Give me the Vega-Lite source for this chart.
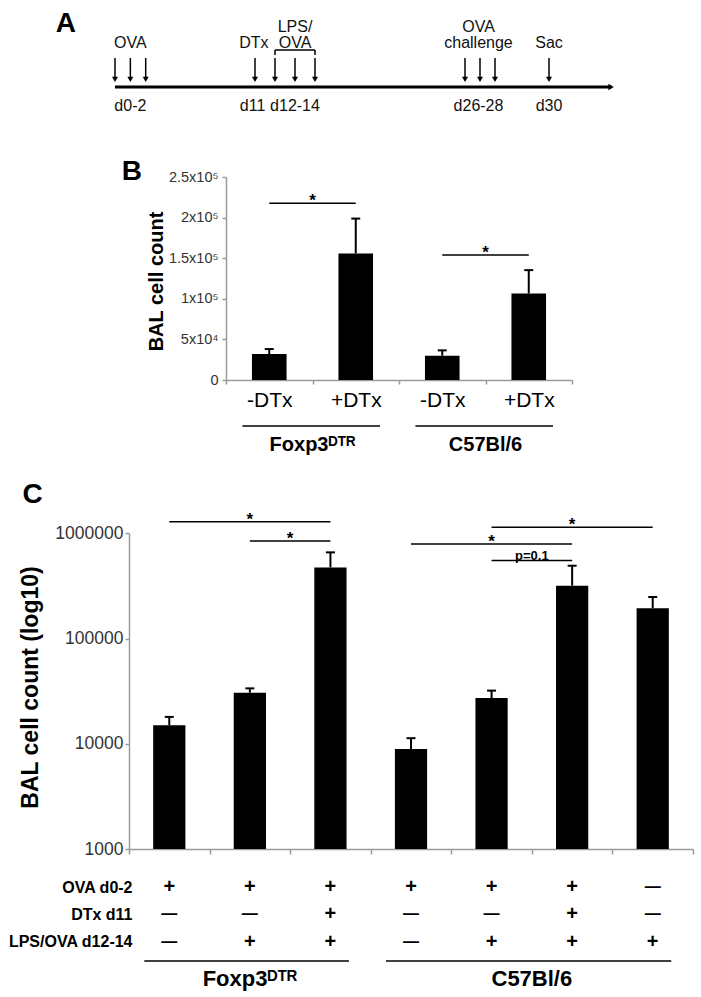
{
  "$schema": "https://vega.github.io/schema/vega-lite/v6.json",
  "width": 701,
  "height": 997,
  "autosize": "none",
  "padding": 0,
  "background": "#ffffff",
  "config": {
    "font": "Liberation Sans",
    "view": {"stroke": null},
    "axis": {"grid": false, "domainColor": "#9a9a9a", "domainWidth": 1.5, "tickColor": "#9a9a9a", "tickWidth": 1.5, "labelColor": "#333333", "titleColor": "#000000", "labelOverlap": false, "labelBound": false, "labelFlush": false}
  },
  "datasets": {
    "timeline": [{"start": 0, "end": 32.3}],
    "events": [
      {"event": "OVA", "day": 0}, {"event": "OVA", "day": 1}, {"event": "OVA", "day": 2},
      {"event": "DTx", "day": 11},
      {"event": "LPS/OVA", "day": 12}, {"event": "LPS/OVA", "day": 13}, {"event": "LPS/OVA", "day": 14},
      {"event": "OVA challenge", "day": 26}, {"event": "OVA challenge", "day": 27}, {"event": "OVA challenge", "day": 28},
      {"event": "Sac", "day": 30}
    ],
    "eventLabels": [
      {"upper": null, "lower": "OVA", "day": 1},
      {"upper": null, "lower": "DTx", "day": 10.9},
      {"upper": "LPS/", "lower": "OVA", "day": 13},
      {"upper": "OVA", "lower": "challenge", "day": 26.9},
      {"upper": null, "lower": "Sac", "day": 30}
    ],
    "dayLabels": [
      {"label": "d0-2", "day": 1},
      {"label": "d11", "day": 10.8},
      {"label": "d12-14", "day": 13},
      {"label": "d26-28", "day": 26.9},
      {"label": "d30", "day": 30}
    ],
    "bracket": [{"start": 12, "end": 14}],
    "barsB": [
      {"key": "Foxp3DTR -DTx", "mean": 32000, "upper": 38100},
      {"key": "Foxp3DTR +DTx", "mean": 155800, "upper": 198800},
      {"key": "C57Bl/6 -DTx", "mean": 29900, "upper": 36500},
      {"key": "C57Bl/6 +DTx", "mean": 106600, "upper": 135300}
    ],
    "sigB": [
      {"from": "Foxp3DTR -DTx", "to": "Foxp3DTR +DTx", "y": 217600, "label": "*"},
      {"from": "C57Bl/6 -DTx", "to": "C57Bl/6 +DTx", "y": 153900, "label": "*"}
    ],
    "groupsB": [
      {"group": "Foxp3ᴰᵀᴿ", "first": "Foxp3DTR -DTx", "last": "Foxp3DTR +DTx"},
      {"group": "C57Bl/6", "first": "C57Bl/6 -DTx", "last": "C57Bl/6 +DTx"}
    ],
    "barsC": [
      {"key": "Foxp3DTR: OVA", "mean": 15000, "upper": 18000},
      {"key": "Foxp3DTR: OVA + LPS/OVA", "mean": 30600, "upper": 33600},
      {"key": "Foxp3DTR: OVA + DTx + LPS/OVA", "mean": 474000, "upper": 659000},
      {"key": "C57Bl/6: OVA", "mean": 8900, "upper": 11300},
      {"key": "C57Bl/6: OVA + LPS/OVA", "mean": 27200, "upper": 32000},
      {"key": "C57Bl/6: OVA + DTx + LPS/OVA", "mean": 318000, "upper": 492000},
      {"key": "C57Bl/6: LPS/OVA", "mean": 194000, "upper": 248000}
    ],
    "sigC": [
      {"from": "Foxp3DTR: OVA", "to": "Foxp3DTR: OVA + DTx + LPS/OVA", "y": 1290000, "label": "*", "at": "Foxp3DTR: OVA + LPS/OVA", "pos": "center"},
      {"from": "Foxp3DTR: OVA + LPS/OVA", "to": "Foxp3DTR: OVA + DTx + LPS/OVA", "y": 845000, "label": "*", "at": "Foxp3DTR: OVA + LPS/OVA", "pos": "edge"},
      {"from": "C57Bl/6: OVA", "to": "C57Bl/6: OVA + DTx + LPS/OVA", "y": 791000, "label": "*", "at": "C57Bl/6: OVA + LPS/OVA", "pos": "center"},
      {"from": "C57Bl/6: OVA + LPS/OVA", "to": "C57Bl/6: LPS/OVA", "y": 1140000, "label": "*", "at": "C57Bl/6: OVA + DTx + LPS/OVA", "pos": "center"},
      {"from": "C57Bl/6: OVA + LPS/OVA", "to": "C57Bl/6: OVA + DTx + LPS/OVA", "y": 550000, "label": "p=0.1", "at": "C57Bl/6: OVA + LPS/OVA", "pos": "edge"}
    ],
    "tableC": [
      {"key": "Foxp3DTR: OVA", "treatment": "OVA d0-2", "sign": "+"},
      {"key": "Foxp3DTR: OVA", "treatment": "DTx d11", "sign": "—"},
      {"key": "Foxp3DTR: OVA", "treatment": "LPS/OVA d12-14", "sign": "—"},
      {"key": "Foxp3DTR: OVA + LPS/OVA", "treatment": "OVA d0-2", "sign": "+"},
      {"key": "Foxp3DTR: OVA + LPS/OVA", "treatment": "DTx d11", "sign": "—"},
      {"key": "Foxp3DTR: OVA + LPS/OVA", "treatment": "LPS/OVA d12-14", "sign": "+"},
      {"key": "Foxp3DTR: OVA + DTx + LPS/OVA", "treatment": "OVA d0-2", "sign": "+"},
      {"key": "Foxp3DTR: OVA + DTx + LPS/OVA", "treatment": "DTx d11", "sign": "+"},
      {"key": "Foxp3DTR: OVA + DTx + LPS/OVA", "treatment": "LPS/OVA d12-14", "sign": "+"},
      {"key": "C57Bl/6: OVA", "treatment": "OVA d0-2", "sign": "+"},
      {"key": "C57Bl/6: OVA", "treatment": "DTx d11", "sign": "—"},
      {"key": "C57Bl/6: OVA", "treatment": "LPS/OVA d12-14", "sign": "—"},
      {"key": "C57Bl/6: OVA + LPS/OVA", "treatment": "OVA d0-2", "sign": "+"},
      {"key": "C57Bl/6: OVA + LPS/OVA", "treatment": "DTx d11", "sign": "—"},
      {"key": "C57Bl/6: OVA + LPS/OVA", "treatment": "LPS/OVA d12-14", "sign": "+"},
      {"key": "C57Bl/6: OVA + DTx + LPS/OVA", "treatment": "OVA d0-2", "sign": "+"},
      {"key": "C57Bl/6: OVA + DTx + LPS/OVA", "treatment": "DTx d11", "sign": "+"},
      {"key": "C57Bl/6: OVA + DTx + LPS/OVA", "treatment": "LPS/OVA d12-14", "sign": "+"},
      {"key": "C57Bl/6: LPS/OVA", "treatment": "OVA d0-2", "sign": "—"},
      {"key": "C57Bl/6: LPS/OVA", "treatment": "DTx d11", "sign": "—"},
      {"key": "C57Bl/6: LPS/OVA", "treatment": "LPS/OVA d12-14", "sign": "+"}
    ],
    "groupsC": [
      {"group": "Foxp3ᴰᵀᴿ", "first": "Foxp3DTR: OVA", "last": "Foxp3DTR: OVA + DTx + LPS/OVA", "at": "Foxp3DTR: OVA + LPS/OVA", "pos": "center"},
      {"group": "C57Bl/6", "first": "C57Bl/6: OVA", "last": "C57Bl/6: LPS/OVA", "at": "C57Bl/6: OVA + LPS/OVA", "pos": "edge"}
    ]
  },
  "resolve": {"scale": {"x": "independent", "y": "independent"}},
  "layer": [
    {
      "layer": [
        {
          "data": {"name": "timeline"},
          "mark": {"type": "rule", "strokeWidth": 3, "color": "#000000"},
          "encoding": {
            "x": {"field": "start", "type": "quantitative", "scale": {"domain": [0, 2, 11, 14, 26, 28, 30], "range": [115, 145.7, 255, 315, 465, 495, 549], "nice": false, "zero": false}, "axis": null},
            "x2": {"field": "end"},
            "y": {"datum": 0, "type": "quantitative", "scale": {"domain": [0, 1], "range": [87, 58], "nice": false, "zero": false}, "axis": null}
          }
        },
        {
          "data": {"name": "timeline"},
          "mark": {"type": "point", "shape": "triangle-right", "size": 40, "filled": true, "color": "#000000", "opacity": 1},
          "encoding": {
            "x": {"field": "end", "type": "quantitative", "axis": null},
            "y": {"datum": 0, "type": "quantitative", "axis": null}
          }
        },
        {
          "data": {"name": "events"},
          "mark": {"type": "rule", "strokeWidth": 1.5, "color": "#000000"},
          "encoding": {
            "x": {"field": "day", "type": "quantitative", "axis": null},
            "y": {"datum": 1, "type": "quantitative", "axis": null},
            "y2": {"datum": 0.25}
          }
        },
        {
          "data": {"name": "events"},
          "mark": {"type": "point", "shape": "triangle-down", "size": 36, "filled": true, "color": "#000000", "opacity": 1},
          "encoding": {
            "x": {"field": "day", "type": "quantitative", "axis": null},
            "y": {"datum": 0.26, "type": "quantitative", "axis": null}
          }
        },
        {
          "data": {"name": "eventLabels"},
          "mark": {"type": "text", "fontSize": 16, "baseline": "alphabetic", "dy": -10.5, "color": "#111111"},
          "encoding": {
            "x": {"field": "day", "type": "quantitative", "axis": null},
            "y": {"datum": 1, "type": "quantitative", "axis": null},
            "text": {"field": "lower"}
          }
        },
        {
          "data": {"name": "eventLabels"},
          "transform": [{"filter": "isValid(datum.upper)"}],
          "mark": {"type": "text", "fontSize": 16, "baseline": "alphabetic", "dy": -26.5, "color": "#111111"},
          "encoding": {
            "x": {"field": "day", "type": "quantitative", "axis": null},
            "y": {"datum": 1, "type": "quantitative", "axis": null},
            "text": {"field": "upper"}
          }
        },
        {
          "data": {"name": "bracket"},
          "mark": {"type": "rule", "strokeWidth": 1.5, "color": "#000000"},
          "encoding": {
            "x": {"field": "start", "type": "quantitative", "axis": null},
            "x2": {"field": "end"},
            "y": {"datum": 1.276, "type": "quantitative", "axis": null}
          }
        },
        {
          "data": {"name": "bracket"},
          "mark": {"type": "rule", "strokeWidth": 1.5, "color": "#000000"},
          "encoding": {
            "x": {"field": "start", "type": "quantitative", "axis": null},
            "y": {"datum": 1.276, "type": "quantitative", "axis": null},
            "y2": {"datum": 1.1}
          }
        },
        {
          "data": {"name": "bracket"},
          "mark": {"type": "rule", "strokeWidth": 1.5, "color": "#000000"},
          "encoding": {
            "x": {"field": "end", "type": "quantitative", "axis": null},
            "y": {"datum": 1.276, "type": "quantitative", "axis": null},
            "y2": {"datum": 1.1}
          }
        },
        {
          "data": {"name": "dayLabels"},
          "mark": {"type": "text", "fontSize": 16, "baseline": "alphabetic", "dy": 23.5, "color": "#111111"},
          "encoding": {
            "x": {"field": "day", "type": "quantitative", "axis": null},
            "y": {"datum": 0, "type": "quantitative", "axis": null},
            "text": {"field": "label"}
          }
        },
        {
          "data": {"values": [{"panel": "A"}]},
          "mark": {"type": "text", "fontSize": 28, "fontWeight": "bold", "baseline": "alphabetic", "dy": -26},
          "encoding": {
            "x": {"datum": -3.2, "type": "quantitative", "axis": null},
            "y": {"datum": 1, "type": "quantitative", "axis": null},
            "text": {"field": "panel"}
          }
        }
      ]
    },
    {
      "layer": [
        {
          "data": {"name": "barsB"},
          "mark": {"type": "bar", "color": "#000000", "width": {"band": 0.4}},
          "encoding": {
            "x": {
              "field": "key", "type": "nominal", "sort": null,
              "scale": {"domain": ["Foxp3DTR -DTx", "Foxp3DTR +DTx", "C57Bl/6 -DTx", "C57Bl/6 +DTx"], "range": [226, 572], "paddingInner": 0, "paddingOuter": 0},
              "axis": {"orient": "bottom", "offset": -617, "title": null, "labelExpr": "split(datum.value, ' ')[1]", "labelAngle": 0, "labelFontSize": 21, "labelColor": "#000000", "labelPadding": 5, "tickSize": 4, "tickBand": "extent"}
            },
            "y": {
              "field": "mean", "type": "quantitative",
              "scale": {"domain": [0, 250000], "range": [380, 177], "nice": false},
              "axis": {"orient": "left", "offset": -226, "values": [0, 50000, 100000, 150000, 200000, 250000],
                "labelExpr": "datum.value == 0 ? '0' : datum.value == 50000 ? '5x10⁴' : datum.value == 100000 ? '1x10⁵' : datum.value == 150000 ? '1.5x10⁵' : datum.value == 200000 ? '2x10⁵' : '2.5x10⁵'",
                "labelFontSize": 14.5, "tickSize": 4, "labelPadding": 4,
                "title": "BAL cell count", "titleFontSize": 20, "titleFontWeight": "bold", "titleX": -64, "titleY": 281, "titleBaseline": "alphabetic"}
            },
            "y2": {"datum": 0}
          }
        },
        {
          "data": {"name": "barsB"},
          "mark": {"type": "rule", "strokeWidth": 2, "color": "#000000"},
          "encoding": {
            "x": {"field": "key", "type": "nominal"},
            "y": {"field": "mean", "type": "quantitative"},
            "y2": {"field": "upper"}
          }
        },
        {
          "data": {"name": "barsB"},
          "mark": {"type": "tick", "orient": "horizontal", "size": 9, "thickness": 2, "color": "#000000", "opacity": 1},
          "encoding": {
            "x": {"field": "key", "type": "nominal"},
            "y": {"field": "upper", "type": "quantitative"}
          }
        },
        {
          "data": {"name": "sigB"},
          "mark": {"type": "rule", "strokeWidth": 1.5, "color": "#000000"},
          "encoding": {
            "x": {"field": "from", "type": "nominal"},
            "x2": {"field": "to"},
            "y": {"field": "y", "type": "quantitative"}
          }
        },
        {
          "data": {"name": "sigB"},
          "mark": {"type": "text", "fontSize": 17, "fontWeight": "bold", "baseline": "alphabetic", "dy": 3},
          "encoding": {
            "x": {"field": "from", "type": "nominal", "bandPosition": 1},
            "y": {"field": "y", "type": "quantitative"},
            "text": {"field": "label"}
          }
        },
        {
          "data": {"name": "groupsB"},
          "mark": {"type": "rule", "strokeWidth": 1.5, "color": "#000000", "yOffset": 46},
          "encoding": {
            "x": {"field": "first", "type": "nominal", "bandPosition": 0.19},
            "x2": {"field": "last", "bandPosition": 0.78},
            "y": {"datum": 0, "type": "quantitative"}
          }
        },
        {
          "data": {"name": "groupsB"},
          "mark": {"type": "text", "fontSize": 20, "fontWeight": "bold", "baseline": "middle", "dy": 65},
          "encoding": {
            "x": {"field": "first", "type": "nominal", "bandPosition": 1},
            "y": {"datum": 0, "type": "quantitative"},
            "text": {"field": "group"}
          }
        },
        {
          "data": {"values": [{"panel": "B"}]},
          "mark": {"type": "text", "fontSize": 28, "fontWeight": "bold", "baseline": "alphabetic", "dx": -137.5, "dy": 3},
          "encoding": {
            "x": {"datum": "Foxp3DTR -DTx", "type": "nominal"},
            "y": {"datum": 250000, "type": "quantitative"},
            "text": {"field": "panel"}
          }
        }
      ]
    },
    {
      "layer": [
        {
          "data": {"name": "barsC"},
          "mark": {"type": "bar", "color": "#000000", "width": {"band": 0.4}},
          "encoding": {
            "x": {
              "field": "key", "type": "nominal", "sort": null,
              "scale": {"domain": ["Foxp3DTR: OVA", "Foxp3DTR: OVA + LPS/OVA", "Foxp3DTR: OVA + DTx + LPS/OVA", "C57Bl/6: OVA", "C57Bl/6: OVA + LPS/OVA", "C57Bl/6: OVA + DTx + LPS/OVA", "C57Bl/6: LPS/OVA"], "range": [129, 693], "paddingInner": 0, "paddingOuter": 0},
              "axis": {"orient": "bottom", "offset": -148, "title": null, "labels": false, "tickSize": 5, "tickBand": "extent"}
            },
            "y": {
              "field": "mean", "type": "quantitative",
              "scale": {"type": "log", "domain": [1000, 1000000], "range": [849, 533.3], "nice": false},
              "axis": {"orient": "left", "offset": -129, "values": [1000, 10000, 100000, 1000000], "format": "d",
                "labelFontSize": 17.5, "tickSize": 4, "labelPadding": 2,
                "title": "BAL cell count (log10)", "titleFontSize": 23, "titleFontWeight": "bold", "titleX": -91.5, "titleY": 687, "titleBaseline": "alphabetic"}
            },
            "y2": {"datum": 1000}
          }
        },
        {
          "data": {"name": "barsC"},
          "mark": {"type": "rule", "strokeWidth": 2, "color": "#000000"},
          "encoding": {
            "x": {"field": "key", "type": "nominal"},
            "y": {"field": "mean", "type": "quantitative"},
            "y2": {"field": "upper"}
          }
        },
        {
          "data": {"name": "barsC"},
          "mark": {"type": "tick", "orient": "horizontal", "size": 9, "thickness": 2, "color": "#000000", "opacity": 1},
          "encoding": {
            "x": {"field": "key", "type": "nominal"},
            "y": {"field": "upper", "type": "quantitative"}
          }
        },
        {
          "data": {"name": "sigC"},
          "mark": {"type": "rule", "strokeWidth": 1.5, "color": "#000000"},
          "encoding": {
            "x": {"field": "from", "type": "nominal"},
            "x2": {"field": "to"},
            "y": {"field": "y", "type": "quantitative"}
          }
        },
        {
          "data": {"name": "sigC"},
          "transform": [{"filter": "datum.pos == 'center'"}],
          "mark": {"type": "text", "fontSize": 17, "fontWeight": "bold", "baseline": "alphabetic", "dy": 3},
          "encoding": {
            "x": {"field": "at", "type": "nominal"},
            "y": {"field": "y", "type": "quantitative"},
            "text": {"field": "label"}
          }
        },
        {
          "data": {"name": "sigC"},
          "transform": [{"filter": "datum.pos == 'edge' && datum.label == '*'"}],
          "mark": {"type": "text", "fontSize": 17, "fontWeight": "bold", "baseline": "alphabetic", "dy": 3},
          "encoding": {
            "x": {"field": "at", "type": "nominal", "bandPosition": 1},
            "y": {"field": "y", "type": "quantitative"},
            "text": {"field": "label"}
          }
        },
        {
          "data": {"name": "sigC"},
          "transform": [{"filter": "datum.label != '*'"}],
          "mark": {"type": "text", "fontSize": 13, "fontWeight": "bold", "baseline": "alphabetic", "dy": -1},
          "encoding": {
            "x": {"field": "at", "type": "nominal", "bandPosition": 1},
            "y": {"field": "y", "type": "quantitative"},
            "text": {"field": "label"}
          }
        },
        {
          "data": {"values": [{"panel": "C"}]},
          "mark": {"type": "text", "fontSize": 28, "fontWeight": "bold", "baseline": "alphabetic", "dx": -136.8, "dy": -30},
          "encoding": {
            "x": {"datum": "Foxp3DTR: OVA", "type": "nominal"},
            "y": {"datum": 1000000, "type": "quantitative"},
            "text": {"field": "panel"}
          }
        }
      ]
    },
    {
      "layer": [
        {
          "data": {"name": "tableC"},
          "mark": {"type": "text", "fontWeight": "bold", "baseline": "middle", "color": "#000000"},
          "encoding": {
            "x": {
              "field": "key", "type": "nominal", "sort": null,
              "scale": {"domain": ["Foxp3DTR: OVA", "Foxp3DTR: OVA + LPS/OVA", "Foxp3DTR: OVA + DTx + LPS/OVA", "C57Bl/6: OVA", "C57Bl/6: OVA + LPS/OVA", "C57Bl/6: OVA + DTx + LPS/OVA", "C57Bl/6: LPS/OVA"], "range": [129, 693], "paddingInner": 0, "paddingOuter": 0},
              "axis": null
            },
            "y": {
              "field": "treatment", "type": "nominal", "sort": null,
              "scale": {"type": "point", "domain": ["OVA d0-2", "DTx d11", "LPS/OVA d12-14"], "range": [887, 941.5], "padding": 0},
              "axis": {"orient": "left", "offset": -132, "domain": false, "ticks": false, "tickSize": 0, "labelPadding": 0, "labelFontSize": 16, "labelFontWeight": "bold", "labelColor": "#000000", "title": null}
            },
            "text": {"field": "sign"},
            "size": {"field": "sign", "type": "nominal", "scale": {"domain": ["+", "—"], "range": [20, 16]}, "legend": null}
          }
        },
        {
          "data": {"name": "groupsC"},
          "mark": {"type": "rule", "strokeWidth": 1.5, "color": "#000000", "yOffset": 19.5},
          "encoding": {
            "x": {"field": "first", "type": "nominal", "bandPosition": 0.19, "axis": null},
            "x2": {"field": "last", "bandPosition": 0.73},
            "y": {"datum": "LPS/OVA d12-14", "type": "nominal"}
          }
        },
        {
          "data": {"name": "groupsC"},
          "transform": [{"filter": "datum.pos == 'center'"}],
          "mark": {"type": "text", "fontSize": 22, "fontWeight": "bold", "baseline": "middle", "dy": 37.5},
          "encoding": {
            "x": {"field": "at", "type": "nominal", "axis": null},
            "y": {"datum": "LPS/OVA d12-14", "type": "nominal"},
            "text": {"field": "group"}
          }
        },
        {
          "data": {"name": "groupsC"},
          "transform": [{"filter": "datum.pos == 'edge'"}],
          "mark": {"type": "text", "fontSize": 22, "fontWeight": "bold", "baseline": "middle", "dy": 37.5},
          "encoding": {
            "x": {"field": "at", "type": "nominal", "bandPosition": 1, "axis": null},
            "y": {"datum": "LPS/OVA d12-14", "type": "nominal"},
            "text": {"field": "group"}
          }
        }
      ]
    }
  ]
}
